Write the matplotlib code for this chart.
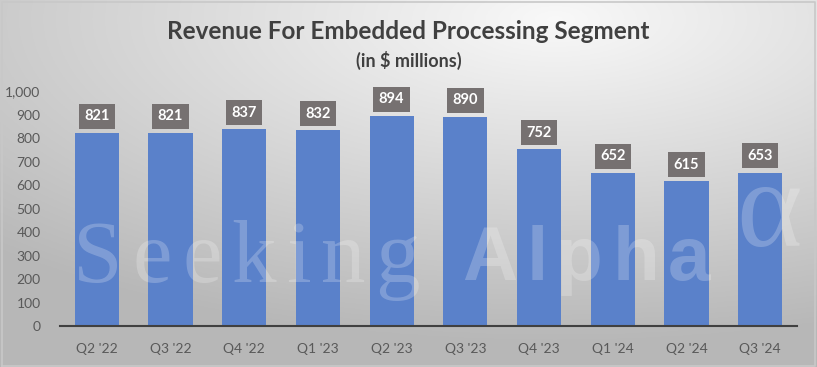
import numpy as np
import matplotlib.pyplot as plt
from matplotlib.ticker import FuncFormatter
from matplotlib.transforms import IdentityTransform

quarters = ["Q2 '22", "Q3 '22", "Q4 '22", "Q1 '23", "Q2 '23",
            "Q3 '23", "Q4 '23", "Q1 '24", "Q2 '24", "Q3 '24"]
revenue = [821, 821, 837, 832, 894, 890, 752, 652, 615, 653]
yticks = list(range(0, 1001, 100))

plt.rcParams['font.family'] = ['Lato', 'DejaVu Sans']

fig = plt.figure(figsize=(8.17, 3.67), dpi=100)
H = 367

# radial gray background
bg = fig.add_axes([0, 0, 1, 1], zorder=0)
gx, gy = np.meshgrid(np.linspace(0, 1, 400), np.linspace(0, 1, 200))
r = np.sqrt(((gx - 0.68) / 1.0) ** 2 + ((gy - 0.05) / 0.9) ** 2)
shade = np.clip(0.975 - 0.26 * r, 0.72, 0.975)
bg.imshow(np.dstack([shade] * 3), extent=(0, 1, 0, 1), aspect='auto', origin='upper')
bg.set_xlim(0, 1)
bg.set_ylim(0, 1)
bg.axis('off')
bg.plot([0.002, 0.998, 0.998, 0.002, 0.002], [0.002, 0.002, 0.995, 0.995, 0.002],
        color='#c8c8c8', lw=1.2)

ax = fig.add_axes([0.0734, 0.1117, 0.9021, 0.6403], zorder=1)
ax.patch.set_alpha(0)
x = np.arange(len(quarters))
ax.bar(x, revenue, width=0.6, color='#5a81ca', zorder=2)
ax.set_xlim(-0.5, len(quarters) - 0.5)
ax.set_ylim(0, 1000)
ax.set_yticks(yticks)
ax.yaxis.set_major_formatter(FuncFormatter(lambda v, p: f"{int(v):,}"))
ax.set_xticks(x)
ax.set_xticklabels(quarters)
ax.tick_params(length=0, labelsize=10, colors='#595959')
ax.tick_params(axis='x', pad=12)
ax.tick_params(axis='y', pad=14)
for s in ['top', 'right', 'left']:
    ax.spines[s].set_visible(False)
ax.spines['bottom'].set_color('#404040')
ax.spines['bottom'].set_linewidth(1.5)

for xi, v in zip(x, revenue):
    ax.annotate(f"{v}", (xi, v), xytext=(0, 12), textcoords='offset points',
                ha='center', va='center', fontsize=10.5, fontweight='bold', color='white',
                bbox=dict(boxstyle='square,pad=0.38', fc='#767171', ec='none'), zorder=3)

fig.text(0.5, 0.915, "Revenue For Embedded Processing Segment", ha='center', va='center',
         fontsize=17.5, fontweight='bold', color='#404040')
fig.text(0.5, 0.835, "(in $ millions)", ha='center', va='center',
         fontsize=13, fontweight='bold', color='#404040')

# watermark, drawn letter by letter with wide tracking
renderer = fig.canvas.get_renderer()


def spaced(word, x0, base, size, family, weight, track):
    xp = x0
    for ch in word:
        t = fig.text(xp, H - base, ch, transform=IdentityTransform(), fontsize=size,
                     family=family, fontweight=weight, color='white', alpha=0.22,
                     ha='left', va='baseline', zorder=5)
        xp = t.get_window_extent(renderer).x1 + track


spaced("Seeking", 73, 282, 64, 'Liberation Serif', 'normal', 10)
spaced("Alpha", 462, 280, 55, 'Liberation Sans', 'bold', 9)
fig.text(736, H - 246, "α", transform=IdentityTransform(), fontsize=90,
         family='Liberation Serif', color='white', alpha=0.22,
         ha='left', va='baseline', zorder=5)

fig.savefig('out.png', dpi=100)
